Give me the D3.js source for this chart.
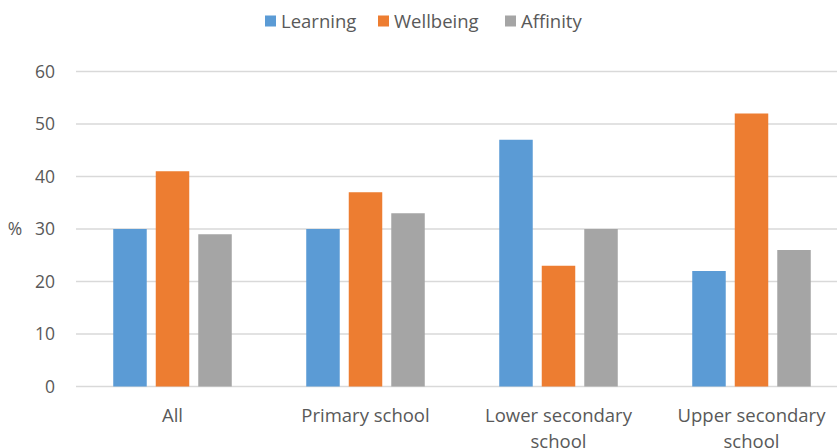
<!DOCTYPE html>
<html lang="en">
<head>
    <meta charset="UTF-8">
    <title>Chart</title>
    <script src="https://cdn.jsdelivr.net/npm/d3@7"></script>
    <style>
        body { margin: 0; background: #fff; }
        text { font-family: "Open Sans", "Noto Sans", sans-serif; fill: #595959; }
    </style>
</head>
<body>
    <script>
        var categories = ["All", "Primary school", "Lower secondary school", "Upper secondary school"];
        var seriesNames = ["Learning", "Wellbeing", "Affinity"];
        var learning = [30, 30, 47, 22];
        var wellbeing = [41, 37, 23, 52];
        var affinity = [29, 33, 30, 26];
        var yTicks = [0, 10, 20, 30, 40, 50, 60];
        var colors = ["#5B9BD5", "#ED7D31", "#A5A5A5"];

        var width = 837, height = 448;
        var plotLeft = 76, plotTop = 71.5, plotBottom = 386.5;
        var bandW = 193;

        var svg = d3.select("body").append("svg")
            .attr("width", width)
            .attr("height", height);

        var x = d3.scaleBand()
            .domain(categories)
            .range([plotLeft, plotLeft + bandW * categories.length])
            .paddingInner(0).paddingOuter(0);

        // bars inside one category
        var xs = d3.scaleBand()
            .domain(seriesNames)
            .range([0, bandW])
            .paddingInner(0.212)
            .paddingOuter(0.876);

        var y = d3.scaleLinear().domain([0, 60]).range([plotBottom, plotTop]);

        // gridlines
        svg.append("g")
            .selectAll("line")
            .data(yTicks)
            .enter().append("line")
            .attr("x1", plotLeft).attr("x2", width)
            .attr("y1", d => y(d)).attr("y2", d => y(d))
            .attr("stroke", "#D9D9D9")
            .attr("stroke-width", 1.3);

        // y tick labels
        svg.append("g")
            .selectAll("text")
            .data(yTicks)
            .enter().append("text")
            .attr("x", 55)
            .attr("y", d => y(d))
            .attr("dy", "0.36em")
            .attr("text-anchor", "end")
            .style("font-size", "17.5px")
            .text(d => d);

        svg.append("text")
            .attr("x", 15).attr("y", y(30))
            .attr("dy", "0.36em")
            .attr("text-anchor", "middle")
            .style("font-size", "17.5px")
            .text("%");

        var values = [learning, wellbeing, affinity];
        var rows = [];
        categories.forEach(function (c, i) {
            seriesNames.forEach(function (s, j) {
                rows.push({cat: c, ser: s, val: values[j][i], idx: j});
            });
        });

        svg.append("g")
            .selectAll("rect")
            .data(rows)
            .enter().append("rect")
            .attr("x", d => x(d.cat) + xs(d.ser))
            .attr("width", xs.bandwidth())
            .attr("y", d => y(d.val))
            .attr("height", d => y(0) - y(d.val))
            .attr("fill", d => colors[d.idx]);

        // category labels (wrapped)
        var wrapped = {
            "All": ["All"],
            "Primary school": ["Primary school"],
            "Lower secondary school": ["Lower secondary", "school"],
            "Upper secondary school": ["Upper secondary", "school"]
        };
        var cl = svg.append("g")
            .selectAll("text")
            .data(categories)
            .enter().append("text")
            .attr("x", d => x(d) + bandW / 2)
            .attr("y", 421.5)
            .attr("text-anchor", "middle")
            .style("font-size", "18.5px");
        cl.each(function (d) {
            var t = d3.select(this);
            wrapped[d].forEach(function (line, k) {
                t.append("tspan")
                    .attr("x", x(d) + bandW / 2)
                    .attr("dy", k === 0 ? 0 : 26.5)
                    .text(line);
            });
        });

        // legend
        var legX = [265, 378, 505];
        var leg = svg.append("g")
            .selectAll("g")
            .data(seriesNames)
            .enter().append("g")
            .attr("transform", (d, i) => "translate(" + legX[i] + ",0)");
        leg.append("rect")
            .attr("width", 11).attr("height", 11)
            .attr("y", 15.5)
            .attr("fill", (d, i) => colors[i]);
        leg.append("text")
            .attr("x", 16).attr("y", 28)
            .style("font-size", "18.5px")
            .text(d => d);
    </script>
</body>
</html>
